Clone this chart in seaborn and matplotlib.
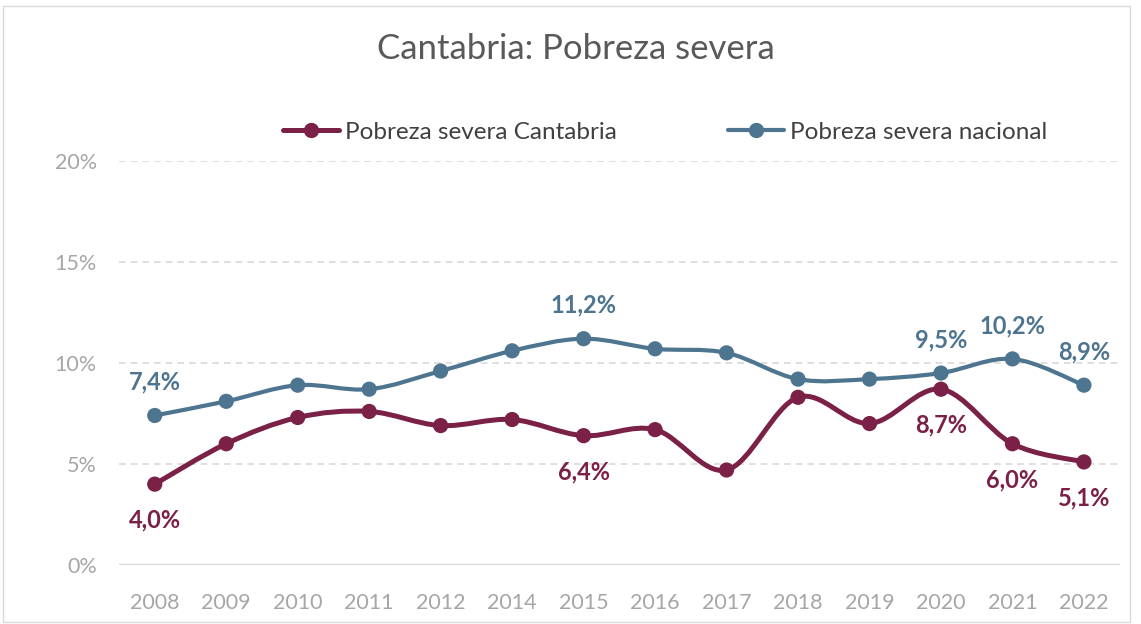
import numpy as np
import pandas as pd
import matplotlib
matplotlib.use("Agg")
import matplotlib.pyplot as plt
from matplotlib.path import Path
from matplotlib.patches import PathPatch, Rectangle
from matplotlib.lines import Line2D
import seaborn as sns

years = ["2008", "2009", "2010", "2011", "2012", "2014", "2015", "2016",
         "2017", "2018", "2019", "2020", "2021", "2022"]
cantabria = [4.0, 6.0, 7.3, 7.6, 6.9, 7.2, 6.4, 6.7, 4.7, 8.3, 7.0, 8.7, 6.0, 5.1]
nacional = [7.4, 8.1, 8.9, 8.7, 9.6, 10.6, 11.2, 10.7, 10.5, 9.2, 9.2, 9.5, 10.2, 8.9]
labeled_years = ["2008", "2015", "2020", "2021", "2022"]

name_cant = "Pobreza severa Cantabria"
name_nac = "Pobreza severa nacional"
col_cant = "#7B2046"
col_nac = "#4D7590"

df = pd.DataFrame({"year": years * 2,
                   "value": np.array(cantabria + nacional) / 100,
                   "serie": [name_cant] * len(years) + [name_nac] * len(years)})
df["pos"] = np.tile(np.arange(len(years)), 2)

sns.set_theme(style="white")
plt.rcParams['font.family'] = ['Lato', 'DejaVu Sans']

fig = plt.figure(figsize=(11.41, 6.24), dpi=100)
ax = fig.add_axes([0.1043, 0.0946, 0.877, 0.6475])


# smooth line like excel's "smoothed line" option (catmull-rom bezier through the points)
def smooth_path(x, y, t=1 / 6):
    x = np.asarray(x, float)
    y = np.asarray(y, float)
    verts = [(x[0], y[0])]
    codes = [Path.MOVETO]
    n = len(x)
    for i in range(n - 1):
        x0, y0 = (x[i - 1], y[i - 1]) if i > 0 else (x[i], y[i])
        x3, y3 = (x[i + 2], y[i + 2]) if i + 2 < n else (x[i + 1], y[i + 1])
        c1 = (x[i] + (x[i + 1] - x0) * t, y[i] + (y[i + 1] - y0) * t)
        c2 = (x[i + 1] - (x3 - x[i]) * t, y[i + 1] - (y3 - y[i]) * t)
        verts += [c1, c2, (x[i + 1], y[i + 1])]
        codes += [Path.CURVE4] * 3
    return Path(verts, codes)


for name, col, lw in [(name_nac, col_nac, 3.0), (name_cant, col_cant, 3.6)]:
    sub = df[df.serie == name]
    ax.add_patch(PathPatch(smooth_path(sub.pos, sub.value), fill=False,
                           edgecolor=col, lw=lw, capstyle="round", zorder=3))
sns.scatterplot(data=df, x="pos", y="value", hue="serie",
                palette={name_cant: col_cant, name_nac: col_nac},
                s=120, edgecolor="none", legend=False, ax=ax, zorder=4)

# data labels
for name, col, dy in [(name_nac, col_nac, 0.0165), (name_cant, col_cant, -0.0178)]:
    sub = df[(df.serie == name) & (df.year.isin(labeled_years))]
    for _, r in sub.iterrows():
        ax.text(r.pos, r.value + dy, f"{r.value * 100:.1f}%".replace(".", ","),
                ha="center", va="center", color=col, fontsize=17, fontweight="bold")

ax.set_xlim(-0.5, len(years) - 0.5)
ax.set_ylim(0, 0.2)
ax.set_xticks(range(len(years)))
ax.set_xticklabels(years)
ax.set_yticks([0, 0.05, 0.10, 0.15, 0.20])
ax.set_yticklabels(["0%", "5%", "10%", "15%", "20%"])
ax.tick_params(axis="both", colors="#A6A6A6", labelsize=15.5, length=0)
ax.tick_params(axis="x", pad=20)
ax.tick_params(axis="y", pad=16)
for y in [0.05, 0.10, 0.15, 0.20]:
    ax.axhline(y, color="#D9D9D9", lw=1.2, ls=(0, (4, 3)), zorder=1)
ax.axhline(0, color="#D9D9D9", lw=2.5, zorder=2)
sns.despine(ax=ax, left=True, bottom=True)
ax.set_xlabel("")
ax.set_ylabel("")

handles = [Line2D([0], [0], color=col_cant, lw=3.6, marker="o", markersize=10),
           Line2D([0], [0], color=col_nac, lw=3.0, marker="o", markersize=10)]
fig.legend(handles, [name_cant, name_nac], loc="center", bbox_to_anchor=(0.583, 0.788),
           ncol=2, frameon=False, fontsize=17.5, handlelength=2.3, handletextpad=0.25,
           columnspacing=4.6, labelcolor="#404040")

fig.text(0.505, 0.922, "Cantabria: Pobreza severa", ha="center", va="center",
         fontsize=25, color="#595959")
fig.add_artist(Rectangle((0.003, 0.003), 0.987, 0.988, transform=fig.transFigure,
                         fill=False, edgecolor="#D9D9D9", lw=1))

fig.savefig("out.png", dpi=100)
